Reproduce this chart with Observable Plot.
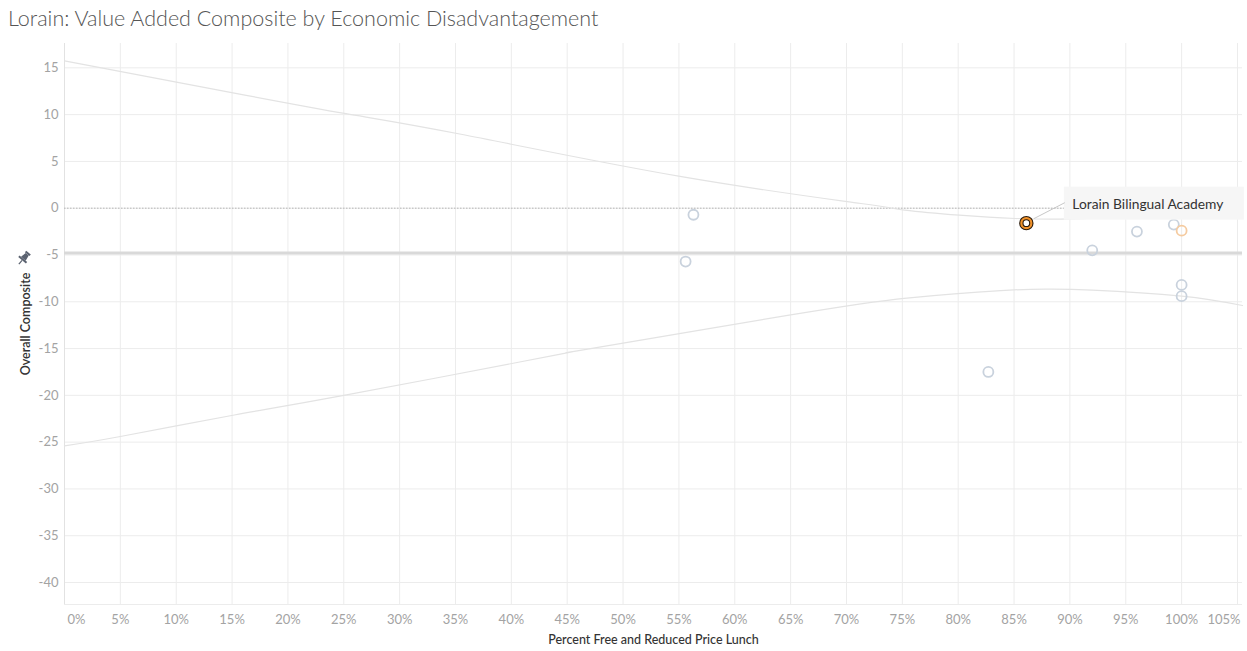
<!DOCTYPE html>
<html><head><meta charset="utf-8">
<script src="https://cdn.jsdelivr.net/npm/d3@7"></script>
<script src="https://cdn.jsdelivr.net/npm/@observablehq/plot@0.6"></script>
<style>
body{margin:0;background:#fff;font-family:Lato,"Open Sans",sans-serif;}
#title{height:40px;box-sizing:border-box;padding:5px 0 0 8px;font-size:21.5px;font-weight:300;color:#555;white-space:nowrap;}
#chart svg{display:block;}
</style></head><body>
<div id="title">Lorain: Value Added Composite by Economic Disadvantagement</div>
<div id="chart"></div>
<script>
// Schools: percent free & reduced lunch vs overall composite
const schoolNames = ["", "", "Lorain Bilingual Academy", "", "", "", "", "", "", ""];
const schoolFRL = [56.3, 55.6, 86.1, 92.0, 96.0, 99.3, 100, 100, 100, 82.7];
const schoolComposite = [-0.7, -5.7, -1.6, -4.5, -2.5, -1.75, -2.4, -8.2, -9.4, -17.5];
const schoolGroup = ["other", "other", "highlight", "other", "other", "other", "orange", "other", "other", "other"];

// Trend confidence band (upper / lower)
const upperX = [0, 15.2, 25.2, 35.5, 55.1, 71.3, 75.2, 80.1, 85.1, 90, 95, 100, 105.45];
const upperY = [15.75, 12.3, 10.1, 7.9, 3.4, 0.5, -0.2, -0.75, -1.1, -1.15, -0.85, -0.35, 0.2];
const lowerX = [0, 5, 15.2, 25, 44.4, 45.9, 65, 75.4, 83.8, 88, 92, 100, 105.45];
const lowerY = [-25.4, -24.4, -22.1, -20.0, -15.6, -15.25, -11.4, -9.6, -8.8, -8.65, -8.75, -9.4, -10.4];

const referenceLine = -4.8;
const xTicks = [0,5,10,15,20,25,30,35,40,45,50,55,60,65,70,75,80,85,90,95,100,105];
const yTicks = [15,10,5,0,-5,-10,-15,-20,-25,-30,-35,-40];

const schools = schoolFRL.map((x, i) => ({name: schoolNames[i], x, y: schoolComposite[i], group: schoolGroup[i]}));
const upper = upperX.map((x, i) => ({x, y: upperY[i]}));
const lower = lowerX.map((x, i) => ({x, y: lowerY[i]}));
const highlight = schools.filter(d => d.group === "highlight");
const others = schools.filter(d => d.group !== "highlight");
const xTickFirst = xTicks.slice(0, 1);
const xTicksMid = xTicks.slice(1, -1);
const xTickLast = xTicks.slice(-1);
const pct = d => d + "%";

const chart = Plot.plot({
  width: 1247, height: 611,
  marginTop: 3, marginBottom: 47, marginLeft: 64, marginRight: 5,
  style: {fontFamily: "Lato, 'Open Sans', sans-serif", fontSize: "13px", background: "#fff", overflow: "visible"},
  x: {domain: [0, 105.45]},
  y: {domain: [-42.35, 17.6]},
  marks: [
    Plot.gridX(xTicks, {stroke: "#ececec", strokeOpacity: 1}),
    Plot.gridY(yTicks, {stroke: "#ececec", strokeOpacity: 1}),
    Plot.ruleX([0], {stroke: "#e2e2e2"}),
    Plot.ruleY([-42.35], {stroke: "#ececec"}),
    Plot.axisX(xTickFirst, {tickSize: 0, tickPadding: 10, fill: "#a3a3a3", fontSize: 13, tickFormat: pct, label: null, textAnchor: "start", dx: 3}),
    Plot.axisX(xTicksMid, {tickSize: 0, tickPadding: 10, fill: "#a3a3a3", fontSize: 13, tickFormat: pct, label: null}),
    Plot.axisX(xTickLast, {tickSize: 0, tickPadding: 10, fill: "#a3a3a3", fontSize: 13, tickFormat: pct, label: null, textAnchor: "end", dx: 3}),
    Plot.axisY(yTicks, {tickSize: 0, tickPadding: 6, fill: "#a3a3a3", fontSize: 13, tickFormat: d => String(d), label: null}),
    Plot.ruleY([0], {stroke: "#b5b5b5", strokeDasharray: "1.5,1.5"}),
    Plot.ruleY([referenceLine], {stroke: "#d9d9d9", strokeWidth: 3}),
    Plot.line(upper, {x: "x", y: "y", curve: "natural", stroke: "#e3e3e3", strokeWidth: 1.2}),
    Plot.line(lower, {x: "x", y: "y", curve: "natural", stroke: "#e3e3e3", strokeWidth: 1.2}),
    Plot.dot(others, {x: "x", y: "y", r: 5, fill: "none", strokeWidth: 1.8,
      stroke: d => d.group === "orange" ? "#f5cba0" : "#c9d2dd"}),
    Plot.dot(highlight, {x: "x", y: "y", r: 5, fill: "none", stroke: "#2a1a0a", strokeWidth: 4.4}),
    Plot.dot(highlight, {x: "x", y: "y", r: 5, fill: "none", stroke: "#f0922b", strokeWidth: 2.2}),
    Plot.text(["Percent Free and Reduced Price Lunch"], {frameAnchor: "bottom", dy: 39, fill: "#333", fontSize: 12.5, fontWeight: 500}),
    Plot.text(["Overall Composite"], {frameAnchor: "left", dx: -39, rotate: -90, textAnchor: "middle", fill: "#333", fontSize: 12.5, fontWeight: 600}),
    Plot.text(highlight, {x: "x", y: "y", text: "name", dx: 46, dy: -19, textAnchor: "start", fill: "#333", fontSize: 13.8, className: "anno-text"})
  ]
});
document.getElementById("chart").appendChild(chart);

// annotation box + leader line, positioned through the chart's own scales
const svg = d3.select(chart);
const sx = chart.scale("x"), sy = chart.scale("y");
const h = highlight[0];
const px = sx.apply(h.x), py = sy.apply(h.y);
const boxG = svg.insert("g", ".anno-text");
boxG.append("rect").attr("x", px + 38).attr("y", py - 36).attr("width", 180).attr("height", 33).attr("fill", "#f6f6f6");
boxG.append("line").attr("x1", px + 8).attr("y1", py - 4).attr("x2", px + 39).attr("y2", py - 20).attr("stroke", "#c8c8c8").attr("stroke-width", 1);
const textNode = svg.select(".anno-text").node();
textNode.parentNode.appendChild(textNode);

// pin icon above the y-axis title
const pin = svg.append("g").attr("transform", "translate(24,218) rotate(40)").attr("fill", "#5b6270");
pin.append("rect").attr("x", -3).attr("y", -7).attr("width", 6).attr("height", 2);
pin.append("path").attr("d", "M-2,-5 L2,-5 L3,1 L-3,1 Z");
pin.append("rect").attr("x", -5).attr("y", 1).attr("width", 10).attr("height", 2);
pin.append("rect").attr("x", -0.6).attr("y", 3).attr("width", 1.2).attr("height", 5);
</script>
</body></html>
